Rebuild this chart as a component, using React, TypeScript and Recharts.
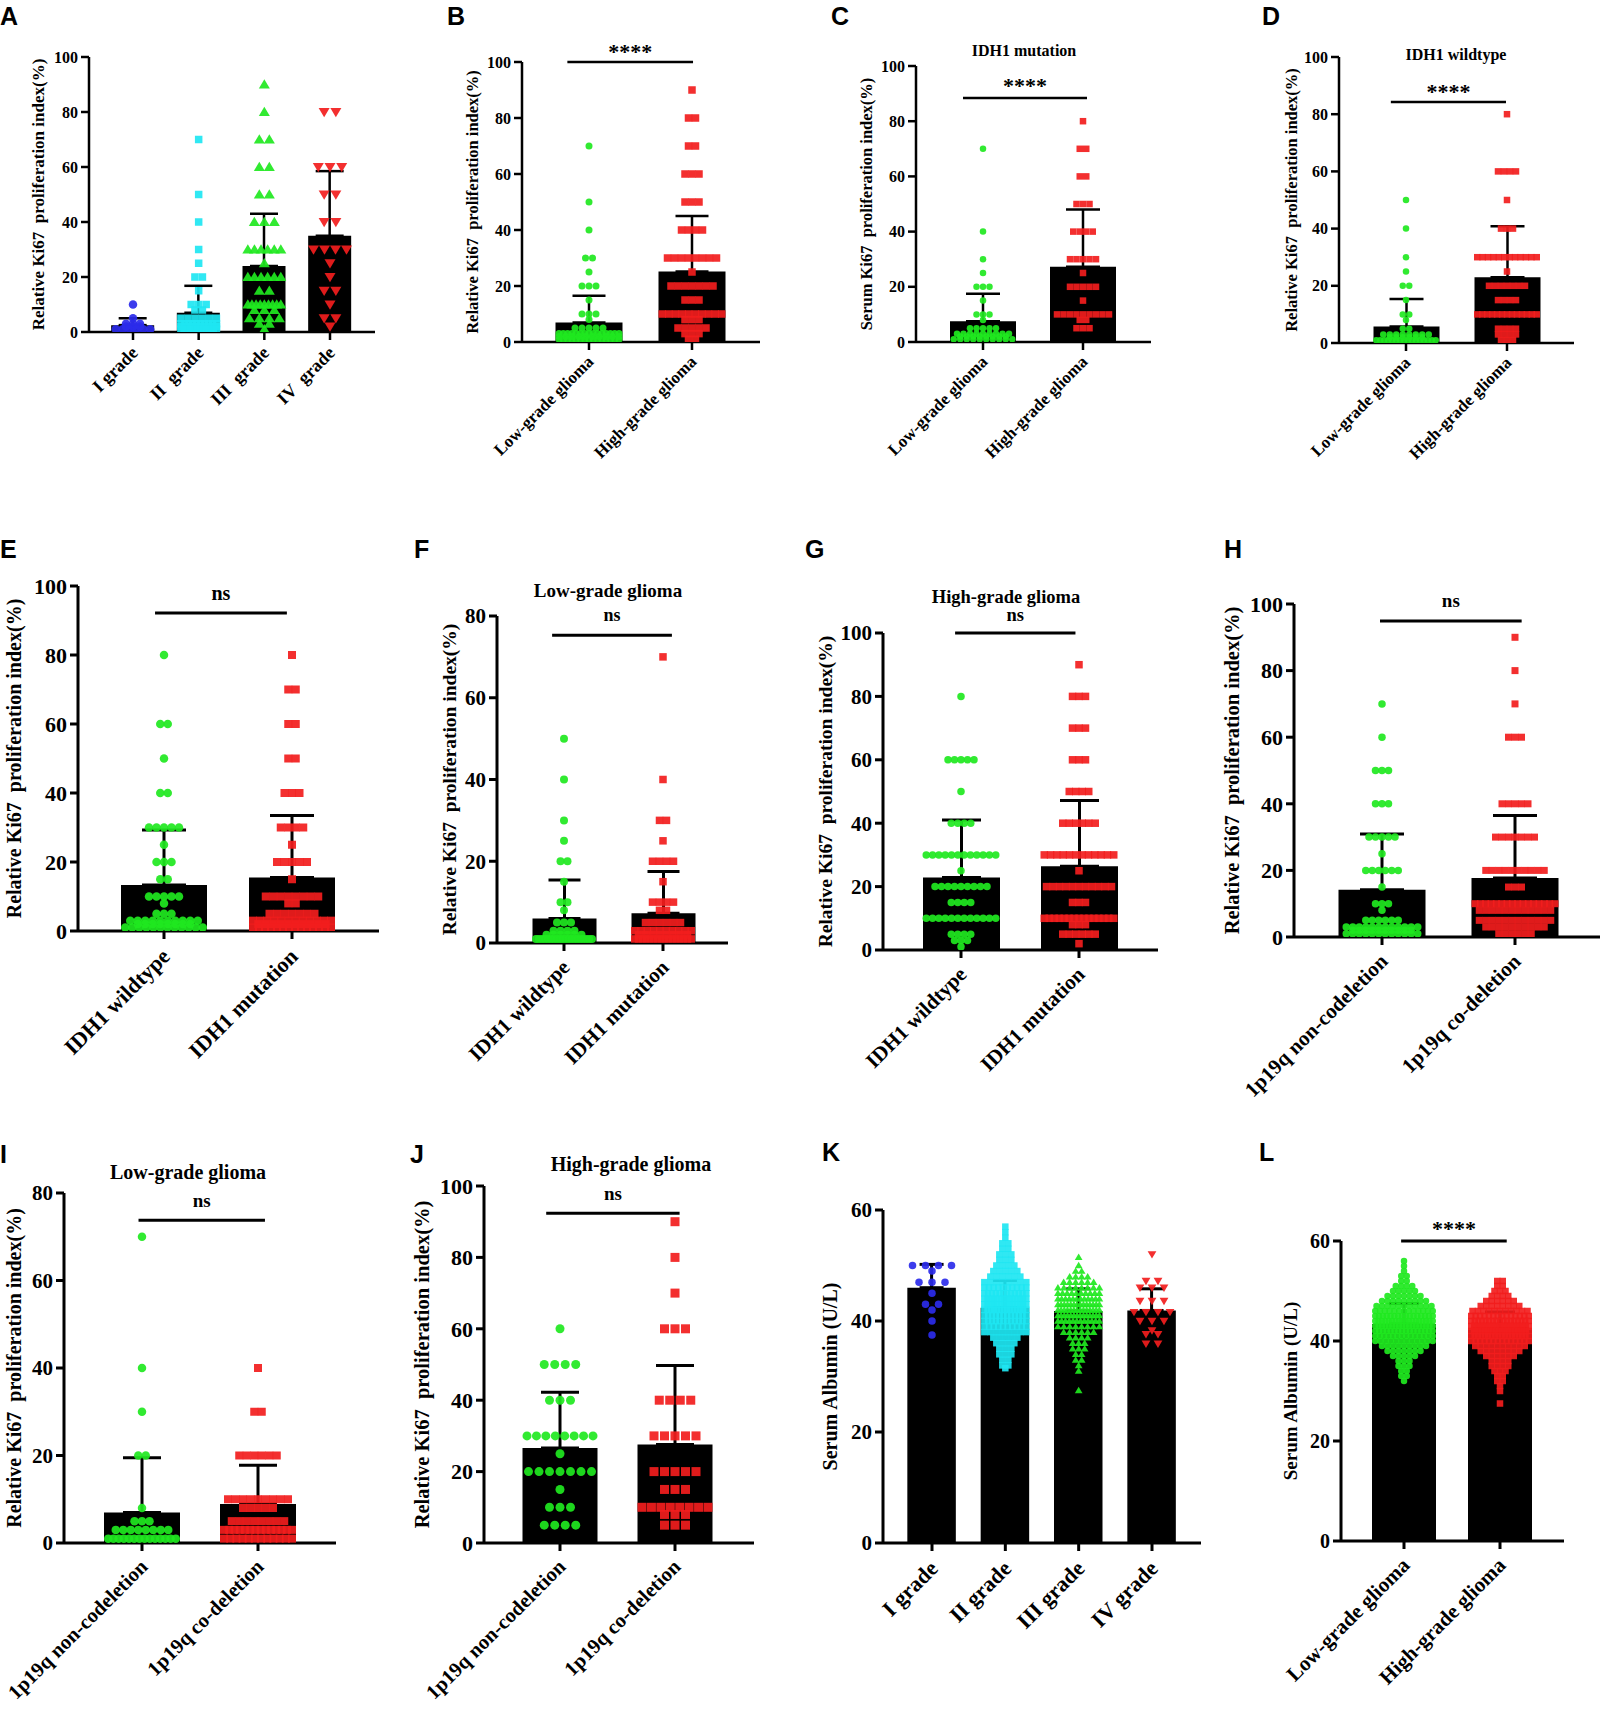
import React from "react";
import { ComposedChart, Bar, ErrorBar, Scatter, XAxis, YAxis, ReferenceLine } from "recharts";

type Row = [number, number]; // [value, number of samples at that value]

const SERIF = '"Liberation Serif", "Times New Roman", serif';
const SANS = '"Liberation Sans", Arial, sans-serif';

const BLUE = "#2b2bea";
const CYAN = "#1ee6f2";
const GREEN = "#1fe81f";
const RED = "#f21d1d";

const kiRel = "Relative Ki67\u00a0 proliferation index(%)";
const kiSerum = "Serum Ki67\u00a0 proliferation index(%)";
const albumin = "Serum Albumin (U/L)";

const gradeCatsA = ["I grade", "II\u00a0 grade", "III\u00a0 grade", "IV\u00a0 grade"];
const gradeCatsK = ["I grade", "II grade", "III grade", "IV grade"];
const gliomaCats = ["Low-grade glioma", "High-grade glioma"];
const idhCats = ["IDH1 wildtype", "IDH1 mutation"];
const codelCats = ["1p19q non-codeletion", "1p19q co-deletion"];

// A - Ki67 by grade
const aMeans = [2.5, 7, 24, 35];
const aSds = [2.5, 9.8, 19, 23.5];
const aI: Row[] = [[10, 1], [5, 1], [3, 3], [2, 3], [1, 6]];
const aII: Row[] = [[70, 1], [50, 1], [40, 1], [30, 1], [25, 1], [20, 2], [15, 1], [10, 3], [8, 2], [5, 6], [3, 10], [2, 10], [1, 12]];
const aIII: Row[] = [[90, 1], [80, 1], [70, 2], [60, 2], [50, 2], [40, 3], [30, 6], [25, 1], [20, 6], [15, 2], [10, 9], [8, 3], [5, 4], [3, 2], [1, 1]];
const aIV: Row[] = [[80, 2], [60, 3], [50, 2], [40, 2], [30, 4], [25, 1], [20, 1], [15, 2], [10, 1], [5, 2], [2, 1]];

// B - low vs high grade
const bMeans = [7, 25.2];
const bSds = [9.5, 19.8];
const bLow: Row[] = [[70, 1], [50, 1], [40, 1], [30, 2], [25, 1], [20, 3], [15, 1], [10, 3], [8, 1], [5, 5], [3, 15], [2, 10], [1, 15]];
const bHigh: Row[] = [[90, 1], [80, 2], [70, 2], [60, 3], [50, 3], [40, 4], [30, 8], [25, 1], [20, 7], [15, 3], [10, 10], [8, 3], [5, 5], [3, 3], [1, 2]];

// C - IDH1 mutation
const cMeans = [7.5, 27.3];
const cSds = [10, 20.7];
const cLow: Row[] = [[70, 1], [40, 1], [30, 1], [25, 1], [20, 3], [15, 1], [10, 3], [8, 1], [5, 5], [3, 9], [2, 8], [1, 10]];
const cHigh: Row[] = [[80, 1], [70, 2], [60, 2], [50, 3], [40, 4], [30, 5], [25, 1], [20, 5], [15, 1], [10, 9], [8, 2], [5, 3]];

// D - IDH1 wildtype
const dMeans = [5.8, 23];
const dSds = [9.6, 17.8];
const dLow: Row[] = [[50, 1], [40, 1], [30, 1], [25, 1], [20, 2], [15, 1], [10, 2], [8, 1], [5, 2], [3, 8], [2, 6], [1, 16]];
const dHigh: Row[] = [[80, 1], [60, 4], [50, 1], [40, 3], [30, 12], [25, 1], [20, 7], [15, 4], [10, 13], [5, 4], [3, 4], [1, 3]];

// E - IDH1 status
const eMeans = [13.3, 15.5];
const eSds = [16, 18];
const eWt: Row[] = [[80, 1], [60, 2], [50, 1], [40, 2], [30, 5], [25, 1], [20, 3], [15, 2], [10, 5], [8, 1], [5, 3], [3, 10], [2, 8], [1, 12]];
const eMut: Row[] = [[80, 1], [70, 2], [60, 2], [50, 2], [40, 3], [30, 4], [25, 1], [20, 5], [15, 1], [10, 8], [8, 2], [5, 7], [3, 12], [2, 10], [1, 14]];

// F - IDH1 status, low grade
const fMeans = [6, 7.3];
const fSds = [9.4, 10.2];
const fWt: Row[] = [[50, 1], [40, 1], [30, 1], [25, 1], [20, 2], [15, 1], [10, 2], [8, 1], [5, 3], [3, 4], [2, 6], [1, 20]];
const fMut: Row[] = [[70, 1], [40, 1], [30, 2], [25, 1], [20, 4], [15, 1], [10, 4], [8, 2], [5, 6], [3, 10], [2, 8], [1, 16]];

// G - IDH1 status, high grade
const gMeans = [22.9, 26.4];
const gSds = [18.1, 20.8];
const gWt: Row[] = [[80, 1], [60, 5], [50, 1], [40, 4], [30, 12], [25, 1], [20, 9], [15, 4], [10, 12], [5, 4], [3, 3], [1, 1]];
const gMut: Row[] = [[90, 1], [80, 3], [70, 3], [60, 3], [50, 4], [40, 6], [30, 12], [25, 1], [20, 11], [15, 3], [10, 15], [8, 3], [5, 6], [2, 1]];

// H - 1p19q status
const hMeans = [14.2, 17.7];
const hSds = [16.7, 18.8];
const hNon: Row[] = [[70, 1], [60, 1], [50, 3], [40, 3], [30, 5], [25, 1], [20, 6], [15, 1], [10, 3], [8, 1], [5, 6], [3, 12], [2, 10], [1, 12]];
const hCo: Row[] = [[90, 1], [80, 1], [70, 1], [60, 3], [40, 5], [30, 7], [20, 10], [15, 3], [10, 16], [8, 12], [5, 12], [3, 10], [1, 6]];

// I - 1p19q status, low grade
const iMeans = [7, 8.9];
const iSds = [12.5, 8.9];
const iNon: Row[] = [[70, 1], [40, 1], [30, 1], [20, 2], [8, 1], [5, 3], [3, 8], [1, 14]];
const iCo: Row[] = [[40, 1], [30, 2], [20, 6], [10, 9], [8, 5], [5, 8], [3, 14], [1, 12]];

// J - 1p19q status, high grade
const jMeans = [26.6, 27.6];
const jSds = [15.6, 22.1];
const jNon: Row[] = [[60, 1], [50, 4], [40, 3], [30, 8], [25, 1], [20, 7], [15, 1], [10, 3], [5, 4]];
const jCo: Row[] = [[90, 1], [80, 1], [70, 1], [60, 3], [40, 4], [30, 5], [20, 5], [15, 3], [10, 8], [8, 3], [5, 3]];

// K - serum albumin by grade
const kMeans = [46, 42.4, 41.8, 41.9];
const kSds = [4.2, 4.9, 4, 3.9];
const kI: Row[] = [[50, 4], [49, 1], [47, 3], [45, 1], [43, 2], [42, 1], [40, 1], [37.5, 1]];
const kII: Row[] = [[57, 1], [56, 1], [55, 1], [54, 2], [53, 2], [52, 3], [51, 3], [50, 4], [49, 5], [48, 6], [47, 8], [46, 10], [45, 12], [44, 14], [43, 14], [42, 14], [41, 12], [40, 12], [39, 10], [38, 8], [37, 5], [36, 4], [35, 3], [34, 3], [33, 2], [32, 2], [31.5, 1]];
const kIII: Row[] = [[51.5, 1], [50, 1], [49, 2], [48, 4], [47, 6], [46, 8], [45, 10], [44, 12], [43, 14], [42, 14], [41, 14], [40, 12], [39, 8], [38, 6], [37, 4], [36, 3], [35, 3], [34, 2], [33, 2], [32, 1], [31, 1], [27.5, 1]];
const kIV: Row[] = [[52, 1], [47.2, 2], [46, 3], [43.6, 3], [41.6, 4], [40, 3], [38.3, 1], [37.6, 2], [35.9, 2]];

// L - serum albumin low vs high grade
const lMeans = [43.4, 42.3];
const lSds = [4.1, 3.5];
const lLow: Row[] = [[56, 1], [55, 1], [54, 1], [53, 2], [52, 2], [51, 4], [50, 5], [49, 7], [48, 9], [47, 11], [46, 13], [45, 16], [44, 18], [43, 18], [42, 16], [41, 14], [40, 12], [39, 9], [38, 7], [37, 5], [36, 3], [35, 3], [34, 2], [33, 2], [32, 1]];
const lHigh: Row[] = [[52, 2], [51, 2], [50, 3], [49, 4], [48, 6], [47, 8], [46, 11], [45, 14], [44, 17], [43, 20], [42, 22], [41, 18], [40, 14], [39, 10], [38, 8], [37, 6], [36, 4], [35, 4], [34, 3], [33, 2], [32, 2], [31, 1], [30, 1], [27.5, 1]];

interface Sig { text: string; y: number; x0: number; x1: number; fs: number; off: number }
interface PanelCfg {
  letter: string; lx: number; ly: number;
  axisX: number; axisR: number; yTop: number; yBot: number; c0: number; cN: number;
  yMax: number; cats: string[]; means: number[]; sds: number[]; groups: Row[][];
  shapes: string[]; colors: string[]; sizes: number[]; steps: number[];
  barW: number; capW: number; lw: number;
  yLabel: string; yLabelFs: number; yLabelDx: number; tickFs: number; catFs: number;
  title?: string; tx?: number; ty?: number; titleFs?: number;
  sig?: Sig;
}

const two = [GREEN, RED];
const twoShapes = ["circle", "square"];

const panels: PanelCfg[] = [
  { letter: "A", lx: 0, ly: 7, axisX: 89, axisR: 375, yTop: 57, yBot: 332, c0: 133, cN: 330, yMax: 100,
    cats: gradeCatsA, means: aMeans, sds: aSds, groups: [aI, aII, aIII, aIV],
    shapes: ["circle", "square", "tri", "tridown"], colors: [BLUE, CYAN, GREEN, RED], sizes: [8.5, 7.5, 10, 10], steps: [7, 7.5, 10, 11.7],
    barW: 43, capW: 28, lw: 2.5, yLabel: kiRel, yLabelFs: 17, yLabelDx: 51, tickFs: 16, catFs: 18 },
  { letter: "B", lx: 447, ly: 7, axisX: 522, axisR: 760, yTop: 62, yBot: 342, c0: 589, cN: 692, yMax: 100,
    cats: gliomaCats, means: bMeans, sds: bSds, groups: [bLow, bHigh],
    shapes: twoShapes, colors: two, sizes: [7, 7.5], steps: [7, 7],
    barW: 67, capW: 33, lw: 2.5, yLabel: kiRel, yLabelFs: 16.5, yLabelDx: 50, tickFs: 16, catFs: 17,
    sig: { text: "****", y: 100, x0: -0.21, x1: 1.01, fs: 22, off: 13 } },
  { letter: "C", lx: 831, ly: 7, axisX: 916, axisR: 1151, yTop: 66, yBot: 342, c0: 983, cN: 1083, yMax: 100,
    cats: gliomaCats, means: cMeans, sds: cSds, groups: [cLow, cHigh],
    shapes: twoShapes, colors: two, sizes: [6.5, 6.5], steps: [6.5, 6.5],
    barW: 66, capW: 34, lw: 2.5, yLabel: kiSerum, yLabelFs: 16.5, yLabelDx: 50, tickFs: 16, catFs: 17,
    title: "IDH1 mutation", tx: 1024, ty: 51, titleFs: 16,
    sig: { text: "****", y: 88.4, x0: -0.2, x1: 1.04, fs: 22, off: 15 } },
  { letter: "D", lx: 1262, ly: 7, axisX: 1339, axisR: 1574, yTop: 57, yBot: 343, c0: 1406, cN: 1507, yMax: 100,
    cats: gliomaCats, means: dMeans, sds: dSds, groups: [dLow, dHigh],
    shapes: twoShapes, colors: two, sizes: [6.5, 6.5], steps: [6.5, 6],
    barW: 66, capW: 34, lw: 2.5, yLabel: kiRel, yLabelFs: 16.5, yLabelDx: 48, tickFs: 16, catFs: 17,
    title: "IDH1 wildtype", tx: 1456, ty: 55, titleFs: 16,
    sig: { text: "****", y: 84.3, x0: -0.15, x1: 0.99, fs: 22, off: 13 } },
  { letter: "E", lx: 0, ly: 540, axisX: 78, axisR: 379, yTop: 586, yBot: 931, c0: 164, cN: 292, yMax: 100,
    cats: idhCats, means: eMeans, sds: eSds, groups: [eWt, eMut],
    shapes: twoShapes, colors: two, sizes: [8.5, 8], steps: [7.5, 7.5],
    barW: 86, capW: 44, lw: 3, yLabel: kiRel, yLabelFs: 20, yLabelDx: 64, tickFs: 22, catFs: 22,
    sig: { text: "ns", y: 92.2, x0: -0.07, x1: 0.96, fs: 20, off: 18 } },
  { letter: "F", lx: 414, ly: 540, axisX: 497, axisR: 728, yTop: 616, yBot: 943, c0: 564, cN: 663, yMax: 80,
    cats: idhCats, means: fMeans, sds: fSds, groups: [fWt, fMut],
    shapes: twoShapes, colors: two, sizes: [8, 7.5], steps: [7, 7],
    barW: 64, capW: 32, lw: 3, yLabel: kiRel, yLabelFs: 19.5, yLabelDx: 48, tickFs: 21, catFs: 21,
    title: "Low-grade glioma", tx: 608, ty: 590, titleFs: 19,
    sig: { text: "ns", y: 75.3, x0: -0.12, x1: 1.09, fs: 18, off: 18 } },
  { letter: "G", lx: 805, ly: 540, axisX: 883, axisR: 1158, yTop: 633, yBot: 950, c0: 961, cN: 1079, yMax: 100,
    cats: idhCats, means: gMeans, sds: gSds, groups: [gWt, gMut],
    shapes: twoShapes, colors: two, sizes: [7.5, 7.5], steps: [6.5, 6.5],
    barW: 77, capW: 39, lw: 3, yLabel: kiRel, yLabelFs: 19.5, yLabelDx: 58, tickFs: 21, catFs: 21,
    title: "High-grade glioma", tx: 1006, ty: 597, titleFs: 18.5,
    sig: { text: "ns", y: 100, x0: -0.05, x1: 0.97, fs: 18.5, off: 16 } },
  { letter: "H", lx: 1224, ly: 540, axisX: 1294, axisR: 1600, yTop: 604, yBot: 937, c0: 1382, cN: 1515, yMax: 100,
    cats: codelCats, means: hMeans, sds: hSds, groups: [hNon, hCo],
    shapes: twoShapes, colors: two, sizes: [7.5, 7], steps: [6.5, 6.5],
    barW: 87, capW: 44, lw: 3, yLabel: kiRel, yLabelFs: 20.5, yLabelDx: 62, tickFs: 22, catFs: 21,
    sig: { text: "ns", y: 94.9, x0: -0.015, x1: 1.05, fs: 19, off: 18 } },
  { letter: "I", lx: 0, ly: 1145, axisX: 64, axisR: 336, yTop: 1193, yBot: 1543, c0: 142, cN: 258, yMax: 80,
    cats: codelCats, means: iMeans, sds: iSds, groups: [iNon, iCo],
    shapes: twoShapes, colors: two, sizes: [8.5, 8], steps: [7.5, 7.5],
    barW: 76, capW: 38, lw: 3, yLabel: kiRel, yLabelFs: 20, yLabelDx: 50, tickFs: 21, catFs: 20.5,
    title: "Low-grade glioma", tx: 188, ty: 1172, titleFs: 20,
    sig: { text: "ns", y: 73.8, x0: -0.03, x1: 1.06, fs: 19, off: 17 } },
  { letter: "J", lx: 410, ly: 1145, axisX: 484, axisR: 754, yTop: 1186, yBot: 1543, c0: 560, cN: 675, yMax: 100,
    cats: codelCats, means: jMeans, sds: jSds, groups: [jNon, jCo],
    shapes: twoShapes, colors: two, sizes: [9, 9], steps: [10.5, 10.5],
    barW: 75, capW: 38, lw: 3, yLabel: kiRel, yLabelFs: 20.5, yLabelDx: 62, tickFs: 22, catFs: 20.5,
    title: "High-grade glioma", tx: 631, ty: 1164, titleFs: 20,
    sig: { text: "ns", y: 92.4, x0: -0.12, x1: 1.04, fs: 19, off: 18 } },
  { letter: "K", lx: 822, ly: 1143, axisX: 883, axisR: 1201, yTop: 1210, yBot: 1543, c0: 932, cN: 1152, yMax: 60,
    cats: gradeCatsK, means: kMeans, sds: kSds, groups: [kI, kII, kIII, kIV],
    shapes: ["circle", "square", "tri", "tridown"], colors: [BLUE, CYAN, GREEN, RED], sizes: [7.5, 6.5, 7, 8], steps: [13, 6, 6, 12],
    barW: 48.5, capW: 24, lw: 3, yLabel: albumin, yLabelFs: 20, yLabelDx: 53, tickFs: 21, catFs: 22 },
  { letter: "L", lx: 1259, ly: 1143, axisX: 1341, axisR: 1564, yTop: 1241, yBot: 1541, c0: 1404, cN: 1500, yMax: 60,
    cats: gliomaCats, means: lMeans, sds: lSds, groups: [lLow, lHigh],
    shapes: twoShapes, colors: two, sizes: [6.5, 6.5], steps: [5.5, 5.5],
    barW: 64, capW: 30, lw: 3, yLabel: albumin, yLabelFs: 19, yLabelDx: 51, tickFs: 20, catFs: 21,
    sig: { text: "****", y: 60, x0: -0.03, x1: 1.07, fs: 22, off: 15 } },
];

// spread samples with the same value side by side, like a Prism scatter dot plot
function swarm(rows: Row[], cat: number, stepPx: number, maxPx: number, unitPx: number) {
  const pts: { x: number; y: number }[] = [];
  rows.forEach(([v, n]) => {
    const w = n > 1 ? Math.min(stepPx, maxPx / (n - 1)) : 0;
    for (let k = 0; k < n; k++) pts.push({ x: cat + ((k - (n - 1) / 2) * w) / unitPx, y: v });
  });
  return pts;
}

const marker = (shape: string, color: string, size: number) => (props: any) => {
  const { cx, cy } = props;
  if (cx == null || cy == null) return <g />;
  const h = size / 2;
  if (shape === "circle") return <circle cx={cx} cy={cy} r={h} fill={color} fillOpacity={0.92} />;
  if (shape === "square") return <rect x={cx - h} y={cy - h} width={size} height={size} fill={color} fillOpacity={0.92} />;
  const s = shape === "tri" ? 1 : -1;
  const pts = `${cx},${cy - s * h * 1.05} ${cx - h * 1.1},${cy + s * h * 0.8} ${cx + h * 1.1},${cy + s * h * 0.8}`;
  return <polygon points={pts} fill={color} fillOpacity={0.92} />;
};

const SigLabel = (props: any) => {
  const { viewBox, text, fs, off } = props;
  if (!viewBox) return null;
  const x = viewBox.x + viewBox.width / 2;
  const shift = text.startsWith("*") ? 0.46 : 0.23;
  return (
    <text x={x} y={viewBox.y - off + shift * fs} textAnchor="middle" fill="#000"
      style={{ fontFamily: SERIF, fontWeight: 700, fontSize: fs }}>{text}</text>
  );
};

const YW = 90;
const TOP = 50;
const XH = 180;
const RIGHT = 4;

function Panel({ p }: { p: PanelCfg }) {
  const n = p.cats.length;
  const unit = (p.cN - p.c0) / (n - 1);
  const d0 = -(p.c0 - p.axisX) / unit;
  const d1 = n - 1 + (p.axisR - p.cN) / unit;
  const plotH = p.yBot - p.yTop;
  const width = YW + (p.axisR - p.axisX) + RIGHT;
  const height = TOP + plotH + XH;
  const axisY = TOP + plotH;
  const rows = p.means.map((m, i) => ({ x: i, m, e: [0, p.sds[i]] }));
  const yTicks: number[] = [];
  for (let t = 0; t <= p.yMax; t += 20) yTicks.push(t);
  const textStyle = { fontFamily: SERIF, fontWeight: 700 };

  const catTick = (props: any) => {
    const { x, payload } = props;
    const label = p.cats[Math.round(payload.value)];
    const ax = x + 0.33 * p.catFs;
    const ay = axisY + 1.22 * p.catFs;
    return (
      <text x={ax} y={ay} transform={`rotate(-45 ${ax} ${ay})`} textAnchor="end" fill="#000"
        style={{ ...textStyle, fontSize: p.catFs }}>{label}</text>
    );
  };

  const yLabel = (props: any) => {
    const vb = props.viewBox || { x: 0, y: TOP, width: YW, height: plotH };
    const x = vb.x + vb.width - p.yLabelDx;
    const y = vb.y + vb.height / 2;
    return (
      <text x={x} y={y} transform={`rotate(-90 ${x} ${y})`} textAnchor="middle" dominantBaseline="central" fill="#000"
        style={{ ...textStyle, fontSize: p.yLabelFs }}>{p.yLabel}</text>
    );
  };

  return (
    <>
      <div style={{ position: "absolute", left: p.lx, top: p.ly - 0.13 * 25, fontFamily: SANS, fontWeight: 700, fontSize: 25, lineHeight: 1 }}>
        {p.letter}
      </div>
      {p.title && (
        <div style={{ position: "absolute", left: p.tx, top: p.ty, transform: "translate(-50%, -50%)", whiteSpace: "nowrap",
          fontFamily: SERIF, fontWeight: 700, fontSize: p.titleFs, lineHeight: 1 }}>
          {p.title}
        </div>
      )}
      <div style={{ position: "absolute", left: p.axisX - YW, top: p.yTop - TOP }}>
        <ComposedChart width={width} height={height} data={rows} margin={{ top: TOP, right: RIGHT, bottom: 0, left: 0 }}>
          <XAxis xAxisId="cat" type="number" dataKey="x" domain={[d0, d1]} allowDataOverflow ticks={p.cats.map((_, i) => i)} interval={0}
            height={XH} tick={catTick} tickSize={8}
            axisLine={{ stroke: "#000", strokeWidth: p.lw }} tickLine={{ stroke: "#000", strokeWidth: p.lw }} />
          <XAxis xAxisId="pts" type="number" dataKey="x" domain={[d0, d1]} allowDataOverflow hide />
          <YAxis type="number" domain={[0, p.yMax]} allowDataOverflow ticks={yTicks} interval={0} width={YW} tickSize={8} tickMargin={3}
            tick={{ ...textStyle, fontSize: p.tickFs, fill: "#000" }}
            axisLine={{ stroke: "#000", strokeWidth: p.lw }} tickLine={{ stroke: "#000", strokeWidth: p.lw }}
            label={yLabel} />
          <Bar xAxisId="cat" dataKey="m" fill="#000" barSize={p.barW} isAnimationActive={false}>
            <ErrorBar dataKey="e" direction="y" width={p.capW / 2} stroke="#000" strokeWidth={p.lw} isAnimationActive={false} />
          </Bar>
          {p.groups.map((g, i) => (
            <Scatter key={i} xAxisId="pts" data={swarm(g, i, p.steps[i], p.barW - p.sizes[i], unit)} dataKey="y"
              shape={marker(p.shapes[i], p.colors[i], p.sizes[i])} isAnimationActive={false} />
          ))}
          {p.sig && (
            <ReferenceLine xAxisId="cat" segment={[{ x: p.sig.x0, y: p.sig.y }, { x: p.sig.x1, y: p.sig.y }]} stroke="#000" strokeWidth={p.lw}
              ifOverflow="visible" label={<SigLabel text={p.sig.text} fs={p.sig.fs} off={p.sig.off} />} />
          )}
        </ComposedChart>
      </div>
    </>
  );
}

export default function App() {
  return (
    <div style={{ position: "absolute", left: 0, top: 0, width: 1605, height: 1711, overflow: "hidden", background: "#fff" }}>
      {panels.map((p) => <Panel key={p.letter} p={p} />)}
    </div>
  );
}
